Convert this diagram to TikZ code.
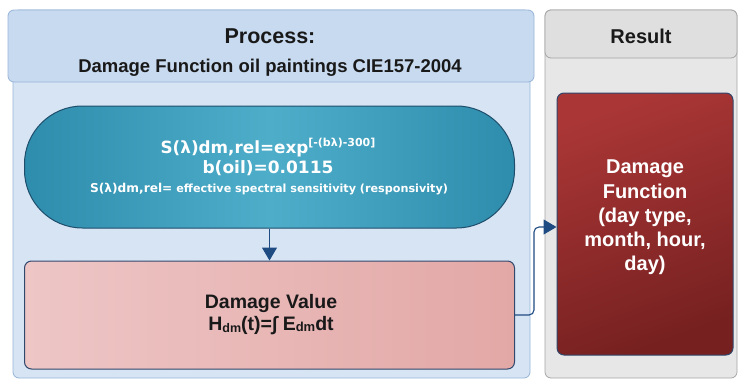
\documentclass[tikz,border=0pt]{standalone}
\usepackage{fontspec}
\setmainfont{Liberation Sans}
\newfontfamily\widefont{DejaVu Sans}
\usetikzlibrary{arrows.meta,calc}

\definecolor{laneblue}{RGB}{214,228,244}
\definecolor{headblue}{RGB}{200,218,240}
\definecolor{edgeblue}{RGB}{150,180,215}
\definecolor{lanegray}{RGB}{231,231,231}
\definecolor{headgray}{RGB}{223,223,223}
\definecolor{edgegray}{RGB}{165,165,165}
\definecolor{tealdark}{RGB}{46,140,172}
\definecolor{teallight}{RGB}{78,174,202}
\definecolor{tealedge}{RGB}{30,78,108}
\definecolor{pinkleft}{RGB}{238,198,198}
\definecolor{pinkright}{RGB}{226,168,166}
\definecolor{boxedge}{RGB}{48,72,108}
\definecolor{redlight}{RGB}{170,54,54}
\definecolor{reddark}{RGB}{118,32,32}
\definecolor{connblue}{RGB}{30,75,130}
\definecolor{ink}{RGB}{25,25,25}

\newcommand{\fs}[1]{\fontsize{#1}{#1}\selectfont}

\tikzset{
  lane/.style={draw=#1, line width=0.8pt, rounded corners=6pt, inner sep=0pt},
  lanehead/.style={draw=#1, line width=0.8pt, rounded corners=6pt, inner sep=0pt},
  pillbox/.style={draw=tealedge, line width=1pt, rounded corners=58pt,
    left color=tealdark, right color=tealdark, middle color=teallight,
    minimum width=490pt, minimum height=122pt, inner sep=0pt},
  valuebox/.style={draw=boxedge, line width=1pt, rounded corners=7pt,
    left color=pinkleft, right color=pinkright,
    minimum width=490pt, minimum height=108pt, inner sep=0pt},
  resultbox/.style={draw=boxedge, line width=1pt, rounded corners=7pt,
    shading=axis, top color=redlight, bottom color=reddark, shading angle=20,
    minimum width=176pt, minimum height=262pt, inner sep=0pt},
  conn/.style={draw=connblue, line width=1.1pt,
    -{Triangle[length=13pt,width=15pt]}},
  txt/.style={font=\bfseries, inner sep=0pt, anchor=base},
}

\begin{document}
\begin{tikzpicture}[x=1pt,y=-1pt]
  \useasboundingbox (0,0) rectangle (738,383);

  % swim lanes
  \node[lane=edgeblue, fill=laneblue, minimum width=517pt, minimum height=368pt] (plane) at (271.5,194) {};
  \node[lanehead=edgeblue, fill=headblue, minimum width=526pt, minimum height=72pt] (phead) at (271,46) {};
  \node[lane=edgegray, fill=lanegray, minimum width=192pt, minimum height=368pt] (rlane) at (641,194) {};
  \node[lanehead=edgegray, fill=headgray, minimum width=192pt, minimum height=48pt] (rhead) at (641,34) {};

  \node[txt, text=ink, font=\bfseries\fs{21.5}] (ptitle) at (270,43) {Process:};
  \node[txt, text=ink, font=\bfseries\fs{18.5}] (psub) at (270,72) {Damage Function oil paintings CIE157-2004};
  \node[txt, text=ink, font=\bfseries\fs{20}] (rtitle) at (641,43) {Result};

  % process steps
  \node[pillbox] (pill) at (269.5,167) {};
  \node[txt, text=white, font=\widefont\bfseries\fs{16.8}] (f1) at (268,153)
    {S(λ)dm,rel=exp\raisebox{6.5pt}{\fs{11}[-(bλ)-300]}};
  \node[txt, text=white, font=\widefont\bfseries\fs{17}] (f2) at (268,173) {b(oil)=0.0115};
  \node[txt, text=white, font=\widefont\bfseries\fs{11.2}] (f3) at (269,192)
    {{\fs{12.2}S(λ)dm,rel=} effective spectral sensitivity (responsivity)};

  \node[valuebox] (value) at (269.5,315) {};
  \node[txt, text=ink, font=\bfseries\fs{19.5}] (v1) at (271,308) {Damage Value};
  \node[txt, text=ink, font=\bfseries\fs{19.5}] (v2) at (271,330)
    {H\raisebox{-2pt}{\fs{12.5}dm}(t)=∫ E\raisebox{-1pt}{\fs{13}dm}dt};

  % result
  \node[resultbox] (result) at (645,224) {};
  \node[txt, text=white, font=\bfseries\fs{20}] (r1) at (645,173) {Damage};
  \node[txt, text=white, font=\bfseries\fs{20}] (r2) at (645,198) {Function};
  \node[txt, text=white, font=\bfseries\fs{20}] (r3) at (645,222) {(day type,};
  \node[txt, text=white, font=\bfseries\fs{20}] (r4) at (645,246) {month, hour,};
  \node[txt, text=white, font=\bfseries\fs{20}] (r5) at (645,270) {day)};

  % connectors
  \draw[conn] (pill.south) -- (value.north);
  \draw[conn, rounded corners=5pt] (value.east) -- ++(19,0) |- ($(result.west)+(0,3)$);
\end{tikzpicture}
\end{document}
